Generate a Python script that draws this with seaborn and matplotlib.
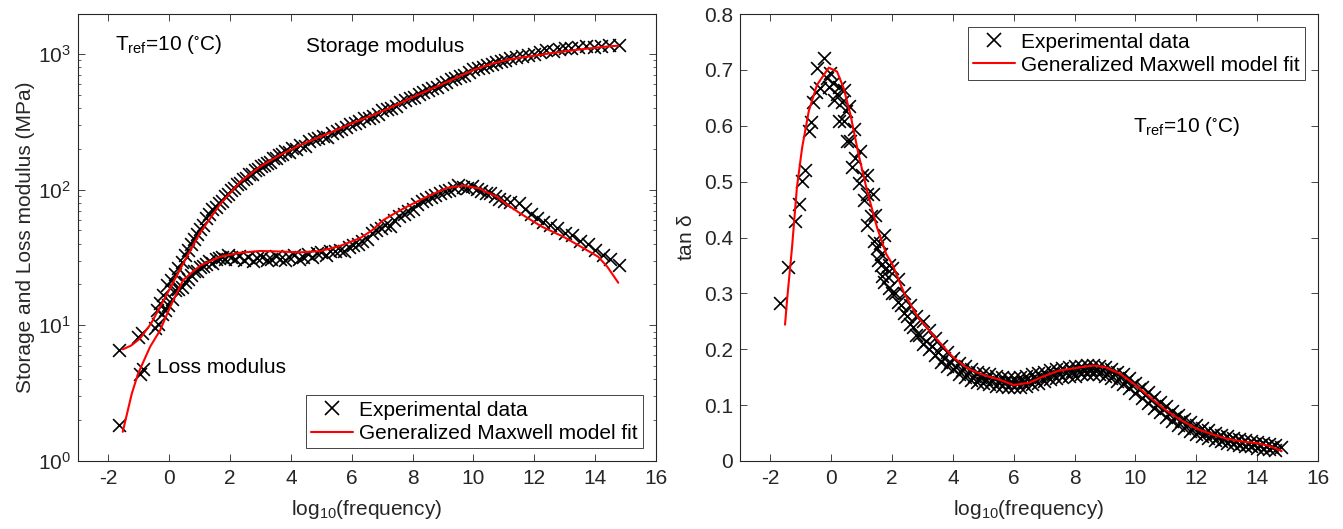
import numpy as np
import pandas as pd
import seaborn as sns
import matplotlib.pyplot as plt
from matplotlib.lines import Line2D

# ---- left panel: storage / loss modulus (MPa) vs log10(frequency) ----
storage_x = [-1.64, -1.02, -0.91, -0.41, -0.30, -0.19, -0.08, 0.05, 0.18, 0.30, 0.41, 0.52, 0.62, 0.72,
             0.82, 0.92, 1.02, 1.12, 1.22, 1.32, 1.42, 1.52, 1.62, 1.72, 1.82, 1.92, 2.02, 2.12, 2.22,
             2.32, 2.42, 2.52, 2.62, 2.72, 2.82, 2.92, 3.02, 3.12, 3.22, 3.32, 3.42, 3.52, 3.62, 3.72,
             3.82, 3.92, 4.02, 4.15, 4.30, 4.45, 4.60, 4.75, 4.90, 5.05, 5.20, 5.35, 5.50, 5.65, 5.80,
             5.95, 6.10, 6.25, 6.40, 6.55, 6.70, 6.85, 7.00, 7.15, 7.30, 7.45, 7.60, 7.75, 7.90, 8.05,
             8.20, 8.35, 8.50, 8.65, 8.80, 8.95, 9.10, 9.25, 9.40, 9.55, 9.70, 9.85, 10.00, 10.15, 10.30,
             10.45, 10.60, 10.75, 10.90, 11.05, 11.20, 11.40, 11.60, 11.80, 12.00, 12.20, 12.40, 12.60,
             12.80, 13.00, 13.20, 13.45, 13.70, 13.95, 14.20, 14.45, 14.80]
storage_y = [6.6, 8.2, 8.8, 13.0, 14.5, 16.7, 19.8, 21.5, 24, 26.3, 29.5, 33, 36, 40,
             43, 47, 51, 55, 62, 66, 72, 75, 80, 82, 90, 93, 100, 102, 110,
             112, 120, 121, 130, 131, 140, 141, 150, 152, 158, 160, 170, 172, 180, 182,
             192, 190, 202, 198, 215, 210, 230, 238, 242, 250, 245, 262, 272, 282, 290,
             305, 310, 318, 335, 340, 348, 360, 385, 395, 400, 415, 440, 455, 470, 480,
             510, 520, 540, 560, 570, 600, 620, 650, 665, 690, 705, 740, 770, 785, 800,
             835, 850, 870, 890, 905, 935, 950, 970, 985, 1000, 1040, 1070, 1060,
             1090, 1110, 1100, 1120, 1140, 1130, 1150, 1160, 1170]

loss_x = [-1.64, -0.96, -0.87, -0.47, -0.36, -0.25, -0.14, -0.03, 0.08, 0.20, 0.30, 0.41, 0.52, 0.62,
          0.72, 0.82, 0.92, 1.02, 1.12, 1.22, 1.32, 1.42, 1.52, 1.62, 1.72, 1.82, 1.92, 2.02, 2.15,
          2.30, 2.45, 2.60, 2.75, 2.90, 3.05, 3.20, 3.35, 3.50, 3.65, 3.80, 3.95, 4.10, 4.25, 4.40,
          4.55, 4.70, 4.85, 5.00, 5.15, 5.30, 5.45, 5.60, 5.75, 5.90, 6.05, 6.20, 6.35, 6.50, 6.65,
          6.80, 6.95, 7.10, 7.25, 7.40, 7.55, 7.70, 7.85, 8.00, 8.15, 8.30, 8.45, 8.60, 8.75, 8.90,
          9.05, 9.20, 9.35, 9.50, 9.65, 9.80, 9.95, 10.10, 10.25, 10.40, 10.55, 10.70, 10.85, 11.00,
          11.20, 11.50, 11.70, 11.90, 12.10, 12.30, 12.50, 12.75, 13.00, 13.25, 13.50, 13.75, 14.00,
          14.25, 14.50, 14.80]
loss_y = [1.84, 4.4, 4.8, 9.5, 10.3, 12.2, 13, 14, 15.5, 18.2, 18.5, 19.3, 21, 22,
          23.5, 25, 25, 27, 27.5, 28.5, 30, 29, 31, 31.5, 32, 31, 33, 32, 31,
          32.5, 30.5, 32, 30, 31.5, 32, 30.5, 31, 32.5, 31, 30.5, 32, 33, 31, 32,
          33.5, 32, 34, 34.5, 33, 35, 35.5, 36, 35, 38, 39, 40, 42, 43, 48,
          50, 52, 55, 54, 60, 64, 66, 70, 72, 78, 82, 86, 88, 92, 95,
          97, 100, 103, 108, 104, 102, 106, 101, 98, 94, 95, 90, 85, 82,
          81, 80, 72, 66, 62, 58, 55, 52, 48, 46, 42, 40, 36,
          33, 31, 28]

storage_fit_x = [-1.53, -1.25, -0.96, -0.60, -0.30, 0.03, 0.46, 1.01, 1.67, 2.33, 2.99, 3.64, 4.30,
                 4.96, 5.62, 6.28, 6.71, 7.25, 7.81, 8.35, 8.91, 9.45, 10.00, 10.55, 11.10, 11.60,
                 12.00, 12.50, 13.00, 13.50, 14.00, 14.40, 14.76]
storage_fit_y = [6.65, 7.1, 8.0, 10.3, 13.7, 18.8, 28.6, 48, 78, 114, 148, 180, 213,
                 245, 283, 326, 355, 400, 458, 520, 590, 670, 761, 840, 905, 945,
                 970, 1010, 1045, 1080, 1110, 1135, 1150]

loss_fit_x = [-1.53, -1.23, -1.02, -0.63, -0.30, 0.03, 0.46, 1.01, 1.67, 2.33, 2.99, 3.64, 4.30,
              4.96, 5.62, 6.28, 6.66, 7.04, 7.42, 7.81, 8.47, 9.13, 9.68, 10.20, 10.40, 10.77,
              10.97, 11.54, 12.25, 12.96, 13.53, 14.10, 14.40, 14.76]
loss_fit_y = [1.64, 3.15, 4.43, 6.95, 9.2, 13.7, 21.6, 27.5, 32, 34.3, 35.3, 35, 34.5,
              35.2, 38.5, 44, 50, 59.7, 67, 74.8, 88.7, 103, 107, 102, 96.5, 88.7,
              81.5, 66.7, 53.3, 44.9, 38, 32, 27, 20.6]

# ---- right panel: tan delta ----
tan_peak_x = [-1.67, -1.43, -1.18, -1.07, -0.96, -0.85, -0.74, -0.65, -0.60, -0.49, -0.36, -0.46,
              -0.25, -0.14, -0.03, -0.08, 0.06, 0.08, 0.19, 0.25, 0.36, 0.41, 0.25, 0.43, 0.50,
              0.58, 0.52, 0.63, 0.74, 0.68, 0.77, 0.96, 0.90, 1.01, 1.18, 1.07, 1.18, 1.38, 1.18,
              1.31, 1.45, 1.40, 1.51, 1.62, 1.73, 1.67, 1.81, 1.55, 1.65, 1.75, 1.85, 1.60]
tan_peak_y = [0.282, 0.348, 0.429, 0.460, 0.502, 0.521, 0.590, 0.607, 0.642, 0.660, 0.667, 0.703,
              0.722, 0.685, 0.694, 0.670, 0.676, 0.646, 0.657, 0.670, 0.642, 0.664, 0.608, 0.609,
              0.626, 0.636, 0.572, 0.573, 0.595, 0.527, 0.542, 0.554, 0.498, 0.512, 0.512, 0.468,
              0.477, 0.477, 0.423, 0.438, 0.441, 0.393, 0.382, 0.370, 0.405, 0.331, 0.346, 0.360,
              0.350, 0.320, 0.330, 0.390]

tan_band_x = [1.9, 2.0, 2.2, 2.4, 2.6, 2.8, 3.0, 3.2, 3.4, 3.6, 3.8, 4.0, 4.2, 4.4, 4.6, 4.8,
              5.0, 5.2, 5.4, 5.6, 5.8, 6.0, 6.2, 6.4, 6.6, 6.8, 7.0, 7.2, 7.4, 7.6, 7.8, 8.0,
              8.2, 8.4, 8.6, 8.8, 9.0, 9.2, 9.4, 9.6, 9.8, 10.0, 10.2, 10.4, 10.6, 10.8, 11.0,
              11.2, 11.4, 11.6, 11.8, 12.0, 12.2, 12.4, 12.6, 12.8, 13.0, 13.2, 13.4, 13.6,
              13.8, 14.0, 14.2, 14.4, 14.6]
tan_band_upper = [0.350, 0.345, 0.325, 0.300, 0.280, 0.260, 0.250, 0.235, 0.220, 0.205, 0.195,
                  0.185, 0.175, 0.170, 0.165, 0.160, 0.158, 0.155, 0.152, 0.150, 0.148, 0.148,
                  0.150, 0.152, 0.155, 0.158, 0.160, 0.162, 0.164, 0.166, 0.168, 0.170, 0.170,
                  0.171, 0.171, 0.170, 0.168, 0.165, 0.160, 0.155, 0.148, 0.140, 0.132, 0.124,
                  0.115, 0.106, 0.098, 0.090, 0.082, 0.076, 0.070, 0.064, 0.059, 0.055, 0.051,
                  0.047, 0.044, 0.042, 0.040, 0.038, 0.036, 0.034, 0.032, 0.030, 0.029]
tan_band_lower = [0.310, 0.300, 0.285, 0.265, 0.245, 0.225, 0.210, 0.200, 0.190, 0.178, 0.170,
                  0.165, 0.155, 0.150, 0.145, 0.142, 0.140, 0.138, 0.135, 0.135, 0.133, 0.132,
                  0.133, 0.135, 0.137, 0.140, 0.143, 0.146, 0.148, 0.150, 0.152, 0.153, 0.155,
                  0.156, 0.156, 0.155, 0.152, 0.148, 0.143, 0.137, 0.130, 0.122, 0.113, 0.104,
                  0.095, 0.087, 0.079, 0.072, 0.065, 0.059, 0.054, 0.049, 0.045, 0.041, 0.038,
                  0.035, 0.033, 0.031, 0.029, 0.027, 0.026, 0.024, 0.022, 0.021, 0.020]
tan_mid_x = [2.1, 2.3, 2.5, 2.7, 2.9, 3.1, 3.3, 3.5, 3.7, 3.9, 4.1, 4.3, 4.5, 4.7, 4.9, 5.1,
             5.3, 5.5, 5.7, 5.9, 6.1, 6.3, 6.5, 6.7, 6.9, 7.1, 7.3, 7.5, 7.7, 7.9, 8.1, 8.3,
             8.5, 8.7, 8.9, 9.1, 9.3, 9.5, 9.7, 9.9, 10.1, 10.3, 10.5, 10.7, 10.9, 11.1, 11.3,
             11.5, 11.7, 11.9, 12.1, 12.3, 12.5, 12.7, 12.9, 13.1, 13.3, 13.5, 13.7, 13.9,
             14.1, 14.3, 14.5]
tan_mid_y = [0.300, 0.280, 0.260, 0.240, 0.225, 0.215, 0.205, 0.195, 0.185, 0.177,
             0.168, 0.162, 0.157, 0.153, 0.150, 0.147, 0.145, 0.142, 0.141, 0.140,
             0.140, 0.142, 0.144, 0.147, 0.150, 0.153, 0.156, 0.158, 0.160, 0.161,
             0.162, 0.163, 0.164, 0.164, 0.162, 0.160, 0.156, 0.150, 0.144, 0.136,
             0.128, 0.119, 0.110, 0.101, 0.093, 0.085, 0.078, 0.071, 0.065, 0.059,
             0.054, 0.050, 0.046, 0.043, 0.040, 0.037, 0.035, 0.033, 0.031, 0.030,
             0.028, 0.026, 0.025]
tan_last_x = [14.8]
tan_last_y = [0.025]

tan_fit_x = [-1.52, -1.45, -1.29, -1.13, -0.96, -0.74, -0.47, -0.08, 0.19, 0.41, 0.63, 0.90, 1.18,
             1.51, 1.81, 2.0, 2.4, 2.84, 3.4, 4.0, 4.5, 5.0, 5.5, 6.0, 6.5, 7.0, 7.5, 8.0, 8.6,
             9.0, 9.5, 10.0, 10.5, 11.0, 11.5, 12.0, 12.5, 13.0, 13.5, 14.0, 14.4, 14.8]
tan_fit_y = [0.244, 0.290, 0.382, 0.489, 0.560, 0.626, 0.673, 0.704, 0.697, 0.667, 0.620, 0.548,
             0.483, 0.417, 0.370, 0.353, 0.300, 0.258, 0.222, 0.186, 0.165, 0.154, 0.146, 0.136,
             0.140, 0.152, 0.162, 0.166, 0.171, 0.168, 0.156, 0.136, 0.113, 0.091, 0.073, 0.058,
             0.048, 0.040, 0.035, 0.032, 0.027, 0.018]

exp_label = 'Experimental data'
fit_label = 'Generalized Maxwell model fit'
fs = 15

sns.set_theme(style='ticks')
plt.rcParams['font.family'] = ['Liberation Sans', 'DejaVu Sans']
plt.rcParams['mathtext.fontset'] = 'custom'
plt.rcParams['mathtext.rm'] = 'Liberation Sans'
plt.rcParams['mathtext.it'] = 'Liberation Sans:italic'
plt.rcParams['mathtext.default'] = 'regular'
plt.rcParams['axes.unicode_minus'] = False
axc = '#262626'
plt.rcParams.update({
    'axes.edgecolor': axc, 'axes.linewidth': 0.8, 'xtick.color': axc, 'ytick.color': axc,
    'xtick.direction': 'in', 'ytick.direction': 'in', 'xtick.top': True, 'ytick.right': True,
    'xtick.major.size': 5, 'ytick.major.size': 5, 'xtick.minor.size': 2.5, 'ytick.minor.size': 2.5,
    'xtick.major.width': 0.6, 'ytick.major.width': 0.6, 'ytick.minor.width': 0.5,
    'xtick.major.pad': 6, 'ytick.major.pad': 5,
    'font.size': fs, 'axes.labelcolor': axc, 'text.color': 'black',
})

mod_exp = pd.DataFrame({'x': storage_x + loss_x, 'y': storage_y + loss_y})
tan_exp = pd.DataFrame({'x': tan_peak_x + tan_band_x + tan_band_x + tan_mid_x + tan_last_x,
                        'y': tan_peak_y + tan_band_upper + tan_band_lower + tan_mid_y + tan_last_y})

fig = plt.figure(figsize=(13.43, 5.29), dpi=100)
ax1 = fig.add_axes([78 / 1343, 68 / 529, 578 / 1343, 447 / 529])
ax2 = fig.add_axes([740 / 1343, 68 / 529, 578 / 1343, 447 / 529])

mk = dict(marker='x', color='black', s=85, linewidth=1.2, zorder=2)
ln = dict(color='#ff0000', linewidth=1.5, sort=False, zorder=3)

# left
sns.scatterplot(data=mod_exp, x='x', y='y', ax=ax1, **mk)
sns.lineplot(x=storage_fit_x, y=storage_fit_y, ax=ax1, **ln)
sns.lineplot(x=loss_fit_x, y=loss_fit_y, ax=ax1, **ln)
ax1.set_yscale('log')
ax1.set_xlim(-3, 16)
ax1.set_ylim(1, 1970)
ax1.set_xticks(range(-2, 17, 2))
ax1.set_xlabel(r'log$_{10}$(frequency)', fontsize=fs, labelpad=7)
ax1.set_ylabel('Storage and Loss modulus (MPa)', fontsize=fs, labelpad=2)
ax1.text(0.064, 0.919, r'T$_{\rm ref}$=10 ($^{\circ}$C)', transform=ax1.transAxes, fontsize=fs)
ax1.text(0.394, 0.915, 'Storage modulus', transform=ax1.transAxes, fontsize=fs)
ax1.text(0.137, 0.196, 'Loss modulus', transform=ax1.transAxes, fontsize=fs)

# right
sns.scatterplot(data=tan_exp, x='x', y='y', ax=ax2, **mk)
sns.lineplot(x=tan_fit_x, y=tan_fit_y, ax=ax2, **ln)
ax2.set_xlim(-3, 16)
ax2.set_ylim(0, 0.8)
ax2.set_xticks(range(-2, 17, 2))
ax2.set_yticks(np.arange(0, 0.81, 0.1))
ax2.set_yticklabels(['0'] + [f'{v:.1f}' for v in np.arange(0.1, 0.81, 0.1)])
ax2.set_xlabel(r'log$_{10}$(frequency)', fontsize=fs, labelpad=7)
ax2.set_ylabel(r'tan $\delta$', fontsize=fs, labelpad=6)
ax2.text(0.680, 0.737, r'T$_{\rm ref}$=10 ($^{\circ}$C)', transform=ax2.transAxes, fontsize=fs)

handles = [Line2D([], [], marker='x', color='black', linestyle='none', markersize=10, markeredgewidth=1.2),
           Line2D([], [], color='#ff0000', linewidth=1.5)]
for ax, loc, anchor in [(ax1, 'lower right', (0.9775, 0.029)), (ax2, 'upper right', (0.977, 0.970))]:
    leg = ax.legend(handles, [exp_label, fit_label], loc=loc, bbox_to_anchor=anchor, borderaxespad=0,
                    fancybox=False, framealpha=1, edgecolor=axc, fontsize=fs, handlelength=2.0,
                    handletextpad=0.3, labelspacing=0.2, borderpad=0.25)
    leg.get_frame().set_linewidth(0.6)
    for t in ax.get_xticklabels() + ax.get_yticklabels():
        t.set_fontsize(fs)

fig.savefig('out.png', dpi=100)
